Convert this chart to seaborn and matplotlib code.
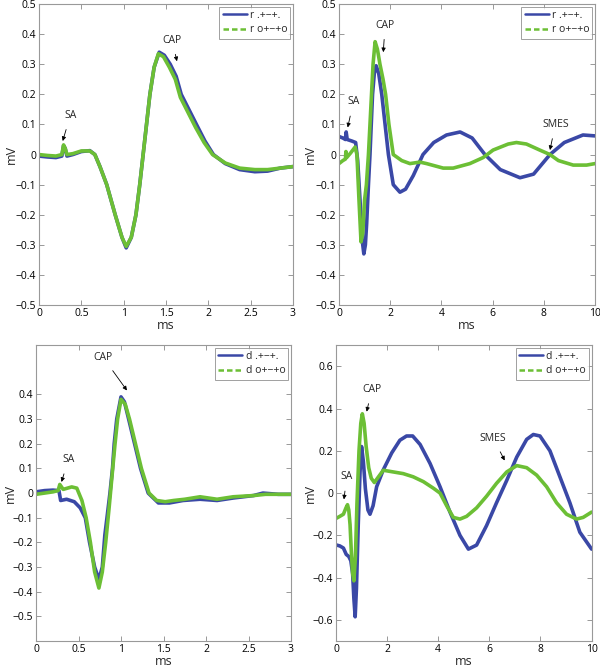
import numpy as np
import pandas as pd
import matplotlib
matplotlib.use("Agg")
import matplotlib.pyplot as plt
import seaborn as sns
from matplotlib.lines import Line2D
from matplotlib.ticker import FuncFormatter, MultipleLocator

sns.set_theme(style="white")
plt.rcParams['font.family'] = ['Open Sans', 'DejaVu Sans']

BLUE = "#3a48a6"
GREEN = "#6cbf35"

# ---------------- data ----------------
# top-left
tl_x_b = [0, 0.1, 0.2, 0.27, 0.29, 0.31, 0.33, 0.4, 0.5, 0.6, 0.66, 0.72, 0.8, 0.9, 0.98, 1.03, 1.09, 1.145, 1.19, 1.23, 1.27, 1.31, 1.36, 1.42, 1.48, 1.55, 1.62, 1.68, 1.77, 1.86, 1.96, 2.06, 2.2, 2.37, 2.55, 2.7, 2.85, 3.0]
tl_y_b = [-0.005, -0.008, -0.01, -0.005, 0.03, 0.02, -0.005, 0.0, 0.01, 0.013, 0.0, -0.04, -0.1, -0.2, -0.275, -0.31, -0.275, -0.2, -0.1, 0.0, 0.1, 0.2, 0.29, 0.34, 0.33, 0.3, 0.26, 0.2, 0.15, 0.1, 0.045, 0.0, -0.03, -0.05, -0.057, -0.055, -0.045, -0.04]
tl_x_g = [0, 0.1, 0.2, 0.27, 0.29, 0.31, 0.33, 0.4, 0.5, 0.6, 0.66, 0.72, 0.8, 0.9, 0.98, 1.03, 1.09, 1.145, 1.19, 1.23, 1.27, 1.31, 1.36, 1.41, 1.47, 1.54, 1.61, 1.67, 1.76, 1.85, 1.95, 2.05, 2.2, 2.37, 2.55, 2.7, 2.85, 3.0]
tl_y_g = [0.0, -0.003, -0.005, 0.0, 0.032, 0.02, 0.0, 0.003, 0.012, 0.012, 0.0, -0.04, -0.1, -0.2, -0.275, -0.305, -0.275, -0.2, -0.1, 0.0, 0.1, 0.2, 0.29, 0.335, 0.325, 0.29, 0.25, 0.19, 0.14, 0.09, 0.04, 0.0, -0.028, -0.045, -0.05, -0.05, -0.045, -0.04]

# top-right
tr_x_b = [0, 0.15, 0.25, 0.28, 0.32, 0.5, 0.65, 0.73, 0.82, 0.9, 0.97, 1.03, 1.08, 1.15, 1.21, 1.31, 1.38, 1.45, 1.55, 1.67, 1.8, 1.93, 2.12, 2.38, 2.6, 2.9, 3.28, 3.7, 4.2, 4.73, 5.2, 5.7, 6.3, 7.07, 7.6, 8.24, 8.8, 9.53, 10]
tr_y_b = [0.06, 0.055, 0.05, 0.075, 0.05, 0.045, 0.04, -0.02, -0.15, -0.28, -0.33, -0.3, -0.23, -0.1, 0.0, 0.2, 0.27, 0.295, 0.27, 0.2, 0.1, 0.0, -0.1, -0.125, -0.115, -0.07, 0.0, 0.04, 0.065, 0.075, 0.055, 0.0, -0.05, -0.077, -0.065, 0.0, 0.04, 0.065, 0.062]
tr_x_g = [0, 0.15, 0.25, 0.27, 0.3, 0.45, 0.63, 0.7, 0.78, 0.86, 0.93, 1.0, 1.07, 1.15, 1.27, 1.33, 1.41, 1.5, 1.6, 1.72, 1.82, 1.95, 2.12, 2.45, 2.77, 3.16, 3.42, 4.07, 4.46, 5.11, 5.63, 6.02, 6.61, 6.93, 7.32, 7.84, 8.24, 8.57, 9.15, 9.67, 10]
tr_y_g = [-0.03, -0.02, -0.015, 0.01, -0.01, 0.005, 0.025, 0.0, -0.15, -0.29, -0.26, -0.15, -0.1, 0.0, 0.2, 0.3, 0.375, 0.35, 0.3, 0.25, 0.2, 0.1, 0.0, -0.02, -0.03, -0.025, -0.03, -0.045, -0.045, -0.03, -0.01, 0.015, 0.035, 0.04, 0.035, 0.015, 0.0, -0.02, -0.035, -0.035, -0.03]

# bottom-left
bl_x_b = [0, 0.1, 0.2, 0.27, 0.29, 0.36, 0.45, 0.52, 0.58, 0.63, 0.69, 0.74, 0.78, 0.81, 0.835, 0.87, 0.9, 0.92, 0.95, 1.0, 1.04, 1.09, 1.16, 1.23, 1.32, 1.44, 1.57, 1.73, 1.93, 2.13, 2.32, 2.56, 2.67, 2.85, 3.0]
bl_y_b = [0.005, 0.01, 0.012, 0.01, -0.03, -0.025, -0.035, -0.06, -0.1, -0.2, -0.3, -0.35, -0.3, -0.17, -0.1, 0.0, 0.1, 0.2, 0.3, 0.39, 0.37, 0.3, 0.2, 0.1, 0.0, -0.04, -0.04, -0.03, -0.025, -0.03, -0.02, -0.01, 0.0, -0.005, -0.005]
bl_x_g = [0, 0.1, 0.2, 0.26, 0.28, 0.32, 0.42, 0.48, 0.54, 0.59, 0.64, 0.69, 0.74, 0.78, 0.82, 0.86, 0.9, 0.93, 0.96, 1.0, 1.05, 1.1, 1.17, 1.24, 1.33, 1.42, 1.52, 1.62, 1.75, 1.93, 2.13, 2.32, 2.56, 2.7, 2.85, 3.0]
bl_y_g = [-0.005, 0.0, 0.005, 0.01, 0.035, 0.015, 0.025, 0.02, -0.03, -0.1, -0.2, -0.32, -0.385, -0.32, -0.2, -0.06, 0.09, 0.2, 0.3, 0.38, 0.36, 0.3, 0.2, 0.1, 0.0, -0.03, -0.035, -0.03, -0.025, -0.015, -0.025, -0.015, -0.01, -0.005, -0.005, -0.005]

# bottom-right
br_x_b = [0, 0.15, 0.29, 0.4, 0.5, 0.58, 0.65, 0.7, 0.75, 0.8, 0.87, 0.94, 1.0, 1.07, 1.15, 1.25, 1.33, 1.45, 1.59, 1.85, 2.18, 2.5, 2.76, 3.0, 3.29, 3.68, 4.07, 4.46, 4.85, 5.18, 5.5, 5.89, 6.28, 6.68, 7.07, 7.46, 7.72, 7.98, 8.37, 8.76, 9.15, 9.54, 10]
br_y_b = [-0.245, -0.25, -0.26, -0.29, -0.3, -0.32, -0.38, -0.5, -0.585, -0.45, -0.15, 0.1, 0.22, 0.15, 0.02, -0.08, -0.1, -0.06, 0.03, 0.11, 0.19, 0.25, 0.27, 0.27, 0.23, 0.14, 0.03, -0.09, -0.2, -0.265, -0.246, -0.154, -0.046, 0.06, 0.17, 0.254, 0.277, 0.27, 0.2, 0.077, -0.046, -0.185, -0.265]
br_x_g = [0, 0.15, 0.29, 0.39, 0.45, 0.5, 0.55, 0.6, 0.65, 0.7, 0.76, 0.82, 0.9, 0.97, 1.03, 1.1, 1.18, 1.28, 1.38, 1.5, 1.62, 1.85, 2.24, 2.63, 3.02, 3.42, 3.81, 4.07, 4.33, 4.59, 4.85, 5.11, 5.5, 5.89, 6.28, 6.68, 7.07, 7.46, 7.85, 8.24, 8.63, 9.02, 9.41, 9.67, 10]
br_y_g = [-0.12, -0.11, -0.1, -0.07, -0.055, -0.08, -0.15, -0.28, -0.38, -0.415, -0.3, -0.05, 0.2, 0.33, 0.375, 0.33, 0.22, 0.12, 0.07, 0.05, 0.07, 0.108, 0.1, 0.092, 0.077, 0.054, 0.023, 0.0, -0.06, -0.115, -0.123, -0.11, -0.07, -0.015, 0.046, 0.1, 0.13, 0.12, 0.085, 0.03, -0.046, -0.1, -0.123, -0.115, -0.09]

legend_top = ["r .+\u2212+.", "r o+\u2212+o"]
legend_bot = ["d .+\u2212+.", "d o+\u2212+o"]

# annotations: (text, text_xy, arrow_tip_xy)
ann_tl = [("SA", (0.37, 0.13), (0.28, 0.045)), ("CAP", (1.57, 0.38), (1.63, 0.31))]
ann_tr = [("SA", (0.56, 0.175), (0.34, 0.09)), ("CAP", (1.8, 0.43), (1.73, 0.34)), ("SMES", (8.45, 0.1), (8.24, 0.015))]
ann_bl = [("SA", (0.38, 0.135), (0.30, 0.045)), ("CAP", (0.79, 0.55), (1.07, 0.416))]
ann_br = [("SA", (0.42, 0.077), (0.31, -0.03)), ("CAP", (1.4, 0.49), (1.2, 0.385)), ("SMES", (6.15, 0.26), (6.6, 0.154))]

# ---------------- plotting ----------------
fig = plt.figure(figsize=(6.0, 6.72), dpi=100)
ax_tl = fig.add_axes([0.065, 0.546, 0.4233, 0.448])
ax_tr = fig.add_axes([0.565, 0.546, 0.4267, 0.448])
ax_bl = fig.add_axes([0.060, 0.046, 0.425, 0.4405])
ax_br = fig.add_axes([0.560, 0.046, 0.426, 0.4405])

fmt = FuncFormatter(lambda v, p: ('%g' % (round(v, 3) + 0.0)).replace('-', '\u2212'))
FS = 7.5


def panel(ax, xb, yb, xg, yg, labels, anns, xlim, xstep, ylim, yticks, ylab_x):
    sns.lineplot(x=xb, y=yb, ax=ax, color=BLUE, lw=2.6, estimator=None, sort=False)
    sns.lineplot(x=xg, y=yg, ax=ax, color=GREEN, lw=2.6, estimator=None, sort=False)
    ax.set_xlim(*xlim)
    ax.set_ylim(*ylim)
    ax.xaxis.set_major_locator(MultipleLocator(xstep))
    ax.set_yticks(yticks)
    ax.xaxis.set_major_formatter(fmt)
    ax.yaxis.set_major_formatter(fmt)
    ax.tick_params(direction='in', length=3.5, width=0.6, color='#888888',
                   labelsize=FS, labelcolor='black', top=True, right=True,
                   bottom=True, left=True, pad=2.0)
    for s in ax.spines.values():
        s.set_color('#999999')
        s.set_linewidth(0.8)
    ax.set_xlabel("ms", fontsize=9)
    ax.set_ylabel("mV", fontsize=9)
    ax.xaxis.set_label_coords(0.5, -0.046)
    ax.yaxis.set_label_coords(ylab_x, 0.5)
    handles = [Line2D([], [], color=BLUE, lw=1.8, ls='-'),
               Line2D([], [], color=GREEN, lw=1.8, ls=(0, (2.2, 1.2)))]
    leg = ax.legend(handles, labels, loc='upper right', fontsize=FS,
                    frameon=True, fancybox=False, borderaxespad=0.25,
                    handlelength=2.3, handletextpad=0.3, borderpad=0.3,
                    labelspacing=0.35)
    leg.get_frame().set_edgecolor('#888888')
    leg.get_frame().set_linewidth(0.7)
    for text, txy, axy in anns:
        ax.annotate(text, xy=axy, xytext=txy, fontsize=FS, ha='center', va='center',
                    arrowprops=dict(arrowstyle='-|>', color='black', lw=0.6,
                                    mutation_scale=6, shrinkA=4, shrinkB=0))


panel(ax_tl, tl_x_b, tl_y_b, tl_x_g, tl_y_g, legend_top, ann_tl,
      (0, 3), 0.5, (-0.5, 0.5), np.round(np.arange(-0.5, 0.51, 0.1), 1), -0.085)
panel(ax_tr, tr_x_b, tr_y_b, tr_x_g, tr_y_g, legend_top, ann_tr,
      (0, 10), 2, (-0.5, 0.5), np.round(np.arange(-0.5, 0.51, 0.1), 1), -0.085)
panel(ax_bl, bl_x_b, bl_y_b, bl_x_g, bl_y_g, legend_bot, ann_bl,
      (0, 3), 0.5, (-0.6, 0.6), np.round(np.arange(-0.5, 0.41, 0.1), 1), -0.075)
panel(ax_br, br_x_b, br_y_b, br_x_g, br_y_g, legend_bot, ann_br,
      (0, 10), 2, (-0.7, 0.7), np.round(np.arange(-0.6, 0.61, 0.2), 1), -0.075)

fig.savefig("out.png", dpi=100)
